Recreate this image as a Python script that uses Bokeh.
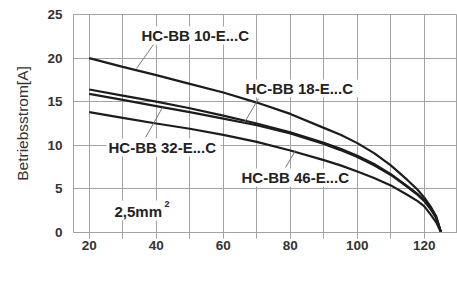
import math
from bokeh.plotting import figure
from bokeh.models import Label, FixedTicker, Range1d
from bokeh.embed import file_html
from bokeh.resources import INLINE

# ---- data ----
temp   = [20, 30, 40, 50, 60, 70, 80, 90, 95, 100, 105, 110, 115, 118, 120, 122, 123.5, 125]
hcbb10 = [20.0, 19.0, 18.05, 17.05, 16.05, 14.9, 13.6, 12.0, 11.2, 10.25, 9.1, 7.7, 6.0, 4.9, 4.0, 2.9, 1.9, 0.0]
hcbb18 = [16.4, 15.7, 15.0, 14.25, 13.4, 12.5, 11.5, 10.3, 9.6, 8.8, 7.85, 6.7, 5.3, 4.4, 3.7, 2.7, 1.75, 0.0]
hcbb32 = [15.9, 15.2, 14.5, 13.8, 13.05, 12.3, 11.35, 10.15, 9.45, 8.65, 7.7, 6.6, 5.2, 4.3, 3.6, 2.6, 1.7, 0.0]
hcbb46 = [13.8, 13.15, 12.5, 11.9, 11.2, 10.4, 9.4, 8.3, 7.7, 7.0, 6.25, 5.4, 4.3, 3.6, 3.0, 2.0, 1.2, 0.0]
series_names = ["HC-BB 10-E...C", "HC-BB 18-E...C", "HC-BB 32-E...C", "HC-BB 46-E...C"]
x_major = [20, 40, 60, 80, 100, 120]
x_minor = [20, 30, 40, 50, 60, 70, 80, 90, 100, 110, 120, 130]
y_major = [0, 5, 10, 15, 20, 25]

W, H = 457, 283
FL, FT, FB = 73, 14, 232          # frame edges in picture pixels
X0 = 15.3
PXU = 3.351                        # pixels per degree
X1 = X0 + (W - FL) / PXU

def dx(px):
    return X0 + (px - FL) / PXU

def dy(py):
    return (FB - py) * 25.0 / (FB - FT)

GRID = "#a3a3a3"
INK = "#1c1c1c"
TXT = "#333333"

p = figure(width=W, height=H, output_backend="svg", toolbar_location=None,
           title=None, x_range=Range1d(X0, X1), y_range=Range1d(0, 25),
           min_border_left=FL, min_border_top=FT, min_border_bottom=H - FB,
           min_border_right=0)

p.xaxis.ticker = FixedTicker(ticks=x_major, minor_ticks=x_minor)
p.yaxis.ticker = FixedTicker(ticks=y_major, minor_ticks=[])
p.xaxis.axis_line_color = GRID
p.yaxis.axis_line_color = GRID
p.xaxis.major_tick_line_color = GRID
p.xaxis.minor_tick_line_color = GRID
p.yaxis.major_tick_line_color = None
p.yaxis.minor_tick_line_color = None
p.xaxis.major_tick_out = 6
p.xaxis.minor_tick_out = 6
p.xaxis.major_label_standoff = 2
p.yaxis.major_label_standoff = 5
for ax in (p.xaxis, p.yaxis):
    ax.major_label_text_font_style = "bold"
    ax.major_label_text_font_size = "13.5px"
    ax.major_label_text_color = TXT

p.yaxis.axis_label = "Betriebsstrom[A]"
p.yaxis.axis_label_text_font_style = "normal"
p.yaxis.axis_label_text_font_size = "15.5px"
p.yaxis.axis_label_text_color = TXT
p.yaxis.axis_label_standoff = 13

p.xgrid.grid_line_color = GRID
p.xgrid.minor_grid_line_color = GRID
p.ygrid.grid_line_color = GRID
p.outline_line_color = GRID

# white patches behind the in-plot texts (hide the grid there)
box_l = [dx(139), dx(243), dx(106), dx(239), dx(112)]
box_r = [dx(253), dx(359), dx(220), dx(354), dx(170)]
box_t = [dy(26), dy(79), dy(138), dy(168), dy(200)]
box_b = [dy(44), dy(97), dy(156), dy(186), dy(220)]
p.quad(left=box_l, right=box_r, top=box_t, bottom=box_b,
       fill_color="white", line_color=None)

for ys in (hcbb10, hcbb18, hcbb32, hcbb46):
    p.line(temp, ys, line_color=INK, line_width=2.2)

# leader lines from labels to curves (picture pixels)
lead_x0 = [dx(153), dx(258), dx(162), dx(295)]
lead_y0 = [dy(44), dy(98), dy(107), dy(150)]
lead_x1 = [dx(136), dx(244), dx(145), dx(285)]
lead_y1 = [dy(68), dy(122), dy(137), dy(167)]
p.segment(lead_x0, lead_y0, lead_x1, lead_y1, line_color="#777777", line_width=1)

label_pos = [(141, 35), (245, 88), (108, 147), (241, 177)]
for name, (lx, ly) in zip(series_names, label_pos):
    p.add_layout(Label(x=dx(lx), y=dy(ly), text=name, text_align="left",
                       text_baseline="middle",
                       text_font_style="bold", text_font_size="15px", text_color="#222222"))

p.add_layout(Label(x=dx(114), y=dy(211), text="2,5mm", text_align="left",
                   text_baseline="middle",
                   text_font_style="bold", text_font_size="15px", text_color="#222222"))
p.add_layout(Label(x=dx(164), y=dy(203), text="2", text_align="left",
                   text_baseline="middle",
                   text_font_style="bold", text_font_size="9px", text_color="#222222"))

# x title (screen units: relative to the frame's bottom-left, y up)
p.add_layout(Label(x=450 - FL, y=FB - 273, x_units="screen", y_units="screen",
                   text="Umgebungstemperatur [°C]",
                   text_align="right", text_baseline="middle",
                   text_font_size="15.5px", text_color=TXT))
# axis direction arrows drawn as text
p.add_layout(Label(x=402 - FL, y=FB - 262, x_units="screen", y_units="screen",
                   text="──────▶", text_align="left", text_baseline="middle",
                   text_font="DejaVu Sans", text_font_size="12px", text_color="#333333"))
p.add_layout(Label(x=37 - FL, y=FB - 68, x_units="screen", y_units="screen",
                   text="──────▶", angle=math.pi / 2, text_align="left",
                   text_baseline="middle",
                   text_font="DejaVu Sans", text_font_size="12px", text_color="#333333"))

open("out.html", "w").write(file_html(p, INLINE))
